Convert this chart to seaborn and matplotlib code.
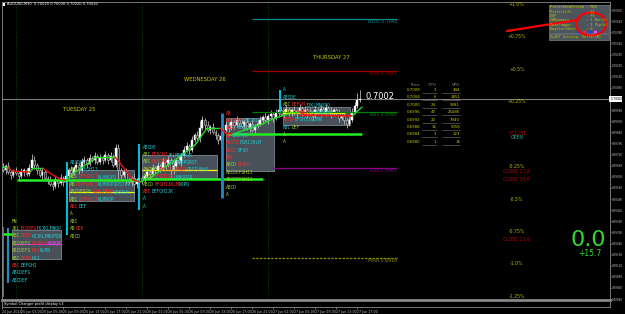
import numpy as np
import pandas as pd
import matplotlib
matplotlib.use("Agg")
import matplotlib.pyplot as plt
import matplotlib.transforms as mtransforms
from matplotlib.patches import Rectangle, Ellipse
from matplotlib.lines import Line2D
import seaborn as sns

# ---------------- data ----------------
symbol_title = "AUDUSD,M30  0.70020 0.70030 0.70020 0.70030"
first_bar = "2024-06-24 21:30"
first_open = 0.69653
closes = [
    0.69637, 0.69658, 0.69626, 0.69610, 0.69631, 0.69620, 0.69604, 0.69626, 0.69637, 0.69615,
    0.69647, 0.69691, 0.69664, 0.69637, 0.69610, 0.69626, 0.69593, 0.69583, 0.69561, 0.69550,
    0.69583, 0.69566, 0.69593, 0.69572, 0.69604, 0.69637, 0.69620, 0.69647, 0.69664, 0.69637,
    0.69680, 0.69691, 0.69669, 0.69701, 0.69691, 0.69712, 0.69680, 0.69701, 0.69691, 0.69718,
    0.69691, 0.69712, 0.69664, 0.69755, 0.69637, 0.69610, 0.69626, 0.69583, 0.69572, 0.69593,
    0.69561, 0.69583, 0.69593, 0.69583, 0.69604, 0.69626, 0.69615, 0.69647, 0.69637, 0.69658,
    0.69647, 0.69680, 0.69664, 0.69691, 0.69637, 0.69658, 0.69691, 0.69680, 0.69718, 0.69745,
    0.69766, 0.69745, 0.69799, 0.69826, 0.69809, 0.69863, 0.69907, 0.69880, 0.69853, 0.69869,
    0.69842, 0.69826, 0.69799, 0.69820, 0.69853, 0.69880, 0.69863, 0.69896, 0.69880, 0.69907,
    0.69890, 0.69874, 0.69896, 0.69863, 0.69885, 0.69853, 0.69874, 0.69885, 0.69907, 0.69923,
    0.69907, 0.69928, 0.69939, 0.69917, 0.69944, 0.69961, 0.69939, 0.69950, 0.69966, 0.69950,
    0.69961, 0.69944, 0.69955, 0.69971, 0.69950, 0.69961, 0.69939, 0.69950, 0.69928, 0.69961,
    0.69944, 0.69966, 0.69950, 0.69971, 0.69955, 0.69939, 0.69961, 0.69944, 0.69917, 0.69928,
    0.69907, 0.69885, 0.69907, 0.69950, 0.69982, 0.70015, 0.70020]
upper_wick_pips = [
    2, 1, 2, 1, 1, 2, 1, 2, 1, 1, 2, 3, 2, 1, 1, 2, 1, 1, 2, 1,
    2, 1, 2, 1, 2, 1, 2, 1, 2, 1, 2, 2, 1, 2, 1, 2, 1, 2, 1, 2,
    1, 2, 1, 2, 2, 1, 1, 2, 1, 1, 2, 1, 2, 1, 1, 2, 1, 2, 1, 2,
    1, 2, 1, 2, 1, 2, 1, 2, 1, 2, 2, 1, 2, 1, 2, 4, 2, 1, 2, 1,
    2, 1, 1, 2, 1, 2, 1, 2, 1, 2, 1, 2, 1, 2, 1, 2, 1, 2, 2, 1,
    2, 1, 2, 1, 2, 1, 2, 1, 2, 1, 1, 2, 1, 2, 1, 2, 1, 2, 1, 2,
    1, 2, 1, 2, 1, 2, 1, 1, 2, 1, 2, 1, 2, 2, 2, 4, 5]
lower_wick_pips = [
    1, 2, 1, 2, 1, 1, 2, 1, 2, 1, 1, 1, 2, 2, 1, 2, 1, 2, 1, 2,
    1, 2, 1, 2, 1, 1, 2, 1, 1, 2, 1, 1, 2, 1, 1, 2, 1, 1, 2, 1,
    2, 1, 1, 1, 5, 2, 1, 2, 1, 2, 1, 2, 1, 2, 1, 1, 2, 1, 2, 1,
    2, 1, 2, 1, 4, 2, 1, 1, 2, 1, 1, 2, 1, 1, 1, 2, 1, 2, 1, 2,
    1, 2, 2, 1, 2, 1, 2, 1, 2, 1, 2, 1, 2, 1, 2, 1, 2, 1, 1, 2,
    1, 2, 1, 2, 1, 2, 1, 2, 1, 2, 2, 1, 2, 1, 2, 1, 2, 1, 2, 1,
    1, 2, 1, 2, 1, 2, 1, 1, 2, 1, 2, 2, 1, 1, 1, 1, 1]

ma_hours = [-2.67, -1.52, -0.76, 2.67, 3.24, 5.14, 6.10, 8.38, 9.52, 11.24, 14.67, 15.05,
            18.86, 19.81, 22.29, 23.62, 25.52, 30.29, 34.10, 36.38, 38.86, 40.0, 41.33,
            44.57, 46.86, 49.33, 52.19, 54.10, 55.05, 64.0, 65.9]
ma_prices = [0.69653, 0.69653, 0.69631, 0.69626, 0.69647, 0.69647, 0.69626, 0.69588, 0.69583,
             0.69626, 0.69691, 0.69707, 0.69707, 0.69674, 0.69583, 0.69572, 0.69593, 0.69691,
             0.69772, 0.69863, 0.69863, 0.69836, 0.69831, 0.69863, 0.69885, 0.69917, 0.69944,
             0.69950, 0.69934, 0.69928, 0.69977]

level_names = ["R100 0.7045", "R78 0.7017", "R61 0.6995", "R38 0.6965", "Pivot 0.6916"]
level_prices = [0.7045, 0.7017, 0.6995, 0.6965, 0.6916]

pct_labels = ["+1.0%", "+0.75%", "+0.5%", "+0.25%", "-0.25%", "-0.5%", "-0.75%", "-1.0%", "-1.25%"]
pct_prices = [0.70533, 0.70360, 0.70182, 0.70009, 0.69658, 0.69480, 0.69307, 0.69134, 0.68956]
close_labels = ["Y.CLOSE", "CLOSE 21.6", "CLOSE 34.6", "CLOSE 21.6"]
close_prices = [0.69836, 0.69631, 0.69588, 0.69259]
open_label, open_price = "OPEN", 0.69815

table_header = ["Price", "TPO", "VPO"]
table_prices = ["0.7008", "0.7004", "0.7000", "0.6996", "0.6992", "0.6988", "0.6984", "0.6980"]
table_tpo = [3, 6, 24, 47, 22, 16, 3, 1]
table_vpo = [444, 1851, 9381, 26486, 7940, 5058, 123, 16]

info_lines = ["ProfitDataPeriod : M30", "ProfitLift       : 01", "ZUP              : PG",
              "ZBNumbers        : 1 Bar(s)", "ZwinTagger       : 1 Pip(s)", "DayStartHour     : 0"]
info_footer = "Su2DF Setting: Def(0)[M]"

day_labels = ["TUESDAY 25", "WEDNESDAY 26", "THURSDAY 27"]
day_label_hours = [12, 36, 60]
day_label_prices = [0.69961, 0.70128, 0.70247]
day_separator_hours = [0, 24, 48]

time_tick_hours = [-2.6, 1, 5, 9, 13, 17, 21, 25, 29, 33, 37, 41, 45, 49, 53, 57, 61, 65]
time_tick_labels = ["24 Jun 2024", "25 Jun 01:00", "25 Jun 05:00", "25 Jun 09:00", "25 Jun 13:00",
                    "25 Jun 17:00", "25 Jun 21:00", "26 Jun 01:00", "26 Jun 05:00", "26 Jun 09:00",
                    "26 Jun 13:00", "26 Jun 17:00", "26 Jun 21:00", "27 Jun 01:00", "27 Jun 05:00",
                    "27 Jun 09:00", "27 Jun 13:00", "27 Jun 17:00"]

profit_value, profit_pips = "0.0", "+15.7"
current_price = 0.70020
current_price_text = "0.7002"

# ---------------- style ----------------
sns.set_theme(style="dark", rc={"axes.facecolor": "black", "figure.facecolor": "black",
                                "axes.edgecolor": "#8a8a8a", "axes.grid": False})
plt.rcParams["font.family"] = ["DejaVu Sans"]
MONO = "DejaVu Sans Mono"
YEL = "#c8c800"
COL = {"r": "#ff2a2a", "g": "#9acd32", "c": "#22c8d0", "m": "#ff44ff", "y": "#ffff00"}

W, H = 625, 314
fig = plt.figure(figsize=(W / 100, H / 100), dpi=100, facecolor="black")
def fx(px): return px / W
def fy(py): return 1 - py / H

ax = fig.add_axes([fx(2), fy(300), fx(610) - fx(2), fy(2) - fy(300)])
ax.set_facecolor("black")
X0, X1 = -2.67, 113.14
Y0, Y1 = 0.68935, 0.70544
ax.set_xlim(X0, X1)
ax.set_ylim(Y0, Y1)

# day separators and current price line
for h in day_separator_hours:
    ax.axvline(h, color="#0a5a0a", lw=0.6, ls=(0, (1, 2)), zorder=0)
ax.axhline(current_price, color="#7a7a7a", lw=0.8, zorder=1)

# ---------------- TPO profiles ----------------
profiles = [
    dict(vl=(-1.52, 0.69026, 0.69323, "#1a8fc0", 1.6), rh=-0.76, rp=0.69361,
         box=(-0.76, 8.57, 0.69156, 0.69313),
         rows=[[("MN", "g")], [("JKL", "g"), ("BCDEFG", "r"), ("HIJKLMNOP", "c")],
               [("ABC", "g"), ("DEFG", "r"), ("HIJKLMNOPQR", "c")],
               [("ABCDEFG", "g"), ("HIJKLM", "r"), ("NOPQR", "m")],
               [("ABCDEFG", "g"), ("HIJ", "r"), ("KLMN", "c")],
               [("ABC", "g"), ("DEFG", "r"), ("HIJ", "c")], [("ABC", "r"), ("DEFGHI", "c")],
               [("ABCDEFG", "c")], [("ABCDEF", "c")]],
         lines=[(0.69291, -2.67, -0.76, "#22ee22", 1.8), (0.69237, -0.76, 8.57, "#cc33cc", 0.8)]),
    dict(vl=(9.71, 0.69286, 0.69680, "#00e5ff", 1.2), rh=10.29, rp=0.69680,
         box=(10.10, 22.48, 0.69469, 0.69637),
         rows=[[("ABCDEF", "c")], [("ABC", "g"), ("DEFGHIJ", "c")],
               [("ABC", "g"), ("DEFGHIJ", "r"), ("KLMNOPQ", "c")],
               [("AB", "g"), ("CDEFGHIJ", "r"), ("KLMNOPQRSTUV", "c")],
               [("ABCDEFGH", "g"), ("IJKLMNOP", "r"), ("QRSTUV", "c")],
               [("ABC", "g"), ("DEFGHIJ", "r"), ("KLMNOP", "c")], [("ABC", "r"), ("DEF", "c")],
               [("A", "g")], [("ABC", "g")], [("AB", "g"), ("CDE", "r")], [("ABCD", "g")]],
         lines=[(0.69518, 10.10, 22.48, "#ffff00", 0.9), (0.69583, 0.19, 23.05, "#22ee22", 1.8)]),
    dict(vl=(23.43, 0.69421, 0.69777, "#00e5ff", 1.2), rh=24.19, rp=0.69761,
         box=(24.0, 38.29, 0.69593, 0.69718),
         rows=[[("ABCDE", "c")], [("ABC", "g"), ("DEFGHI", "r"), ("JKLMNOPQR", "c")],
               [("ABC", "g"), ("DEFGHI", "r"), ("JKLMNOPQRST", "c")],
               [("ABCDEF", "g"), ("GHIJKLMNOP", "r"), ("QRSTUVWX", "c")],
               [("ABCD", "g"), ("EFGHIJK", "r"), ("LMNOPQR", "c")],
               [("ABCD", "g"), ("EFGHIJKLM", "r"), ("NOPQ", "c")], [("ABC", "r"), ("DEFGHIJK", "c")],
               [("A", "c")], [("A", "c")]],
         lines=[(0.69637, 24.0, 38.29, "#ffff00", 0.9), (0.69588, 24.0, 47.1, "#22ee22", 1.8)]),
    dict(vl=(39.24, 0.69485, 0.69944, "#1e8cc8", 2.0), rh=40.0, rp=0.69944,
         box=(40.0, 49.14, 0.69631, 0.69917),
         rows=[[("AB", "r")], [("ABCDEF", "r"), ("GHIJKL", "c")], [("ABCD", "r"), ("EFGHIJ", "c")],
               [("AB", "r"), ("CDEFGH", "c")], [("ABCDE", "r"), ("FGHIJKLM", "c")],
               [("ABCD", "r"), ("EFGH", "c")], [("ABC", "r")], [("ABCD", "g"), ("EFGHI", "r")],
               [("ABCDEFGHIJ", "g")], [("ABCDEFGHIJ", "g")], [("ABCD", "g")], [("A", "g")]],
         lines=[(0.69831, 40.19, 65.9, "#22ee22", 1.8)]),
    dict(vl=(50.29, 0.69950, 0.70069, "#00e5ff", 1.2), rh=50.86, rp=0.70069,
         box=(50.86, 63.62, 0.69880, 0.69977),
         rows=[[("A", "c")], [("ABCDE", "c")], [("ABC", "g"), ("DEFGH", "r"), ("IJKLMNOPQ", "c")],
               [("ABCD", "y"), ("EFGHIJ", "r"), ("KLMNOPQR", "c")], [("ABCD", "r"), ("EFGHIJKLMN", "c")],
               [("ABC", "c"), ("DEF", "g")], [("A", "g")], [("A", "g")]],
         lines=[(0.69944, 50.86, 62.67, "#ffff00", 0.9), (0.69934, 54.1, 64.2, "#ff2020", 1.0)]),
]
ROW_FS = 3.3
CW = 0.602 * ROW_FS
for pr in profiles:
    b = pr["box"]
    ax.add_patch(Rectangle((b[0], b[2]), b[1] - b[0], b[3] - b[2], facecolor="#56606a",
                           edgecolor="#8c96a0", lw=0.6, alpha=0.85, zorder=1))
    vx, vlo, vhi, vc, vw = pr["vl"]
    ax.vlines(vx, vlo, vhi, color=vc, lw=vw, zorder=4)
    for (yv, xa, xb, lc, lw) in pr["lines"]:
        ax.hlines(yv, xa, xb, color=lc, lw=lw, zorder=4)
    for k, segs in enumerate(pr["rows"]):
        off = 0.0
        for s, cc in segs:
            ax.annotate(s, xy=(pr["rh"], pr["rp"] - 0.0004 * k), xytext=(off, 0),
                        textcoords="offset points", fontsize=ROW_FS, family=MONO,
                        color=COL[cc], va="center", ha="left", zorder=6)
            off += CW * len(s)
ax.vlines(-2.48, 0.68951, 0.69329, color="#7a8088", lw=1.2, zorder=4)

# ---------------- candles ----------------
t_index = pd.date_range(first_bar, periods=len(closes), freq="30min")
hours = ((t_index - pd.Timestamp("2024-06-25 00:00")) / pd.Timedelta(hours=1)).to_numpy()
c = np.array(closes)
o = np.r_[first_open, c[:-1]]
hi = np.maximum(o, c) + np.array(upper_wick_pips) * 0.0001
lo = np.minimum(o, c) - np.array(lower_wick_pips) * 0.0001
up = c >= o
ax.vlines(hours, lo, hi, color="#b8b8b8", lw=0.6, zorder=2)
body = np.maximum(np.abs(c - o), 0.00002)
ax.bar(hours[up], body[up], bottom=o[up], width=0.34, color="white", edgecolor="white",
       lw=0.3, zorder=3)
ax.bar(hours[~up], body[~up], bottom=c[~up], width=0.34, color="#2a2a2a", edgecolor="#c8c8c8",
       lw=0.4, zorder=3)

# ---------------- moving average (colour by slope) ----------------
ma_df = pd.DataFrame({"h": ma_hours, "p": ma_prices})
for k in range(len(ma_df) - 1):
    seg = ma_df.iloc[k:k + 2]
    col = "#22dd22" if seg["p"].iloc[1] >= seg["p"].iloc[0] else "#ee1111"
    sns.lineplot(data=seg, x="h", y="p", color=col, lw=1.0, ax=ax, legend=False, zorder=5)
ax.set_xlabel("")
ax.set_ylabel("")

# ---------------- levels ----------------
lev_style = [("#008b8b", "-", 45.0), ("#a00000", "-", 45.0), ("#008000", "-", 45.0),
             ("#8b008b", "-", 49.0), ("#8b8b00", (0, (2, 1)), 45.0)]
for name, p, (lc, ls, x0) in zip(level_names, level_prices, lev_style):
    ax.hlines(p, x0, 72.6, color=lc, lw=0.9, ls=ls, zorder=4)
    ax.text(72.6, p, name, color=lc, fontsize=3.3, ha="right", va="top", zorder=6)

for s, p in zip(pct_labels, pct_prices):
    ax.text(95.4, p, s, color="#b8b800", fontsize=3.3, ha="center", va="center", zorder=6)
for s, p in zip(close_labels, close_prices):
    ax.text(95.4, p, s, color="#c00000", fontsize=3.3, ha="center", va="center", zorder=6)
ax.text(95.4, open_price, open_label, color="#20b2aa", fontsize=3.3, ha="center", va="center")

for s, h, p in zip(day_labels, day_label_hours, day_label_prices):
    ax.text(h, p, s, color=YEL, fontsize=3.8, ha="center", va="center", zorder=6)

ax.text(66.5, 0.70036, current_price_text, color="white", fontsize=6, ha="left", va="center", zorder=6)

# ---------------- table ----------------
ax.text(76.95, 0.70096, table_header[0], color="#8a8a8a", fontsize=2.8, ha="right", va="center")
ax.text(80.0, 0.70096, table_header[1], color="#8a8a8a", fontsize=2.8, ha="right", va="center")
ax.text(84.57, 0.70096, table_header[2], color="#8a8a8a", fontsize=2.8, ha="right", va="center")
for k, (pp, tp, vp) in enumerate(zip(table_prices, table_tpo, table_vpo)):
    yy = 0.70069 - 0.0004 * k
    ax.text(76.95, yy, pp, color=YEL, fontsize=2.8, ha="right", va="center", zorder=6)
    ax.text(80.0, yy, str(tp), color=YEL, fontsize=2.8, ha="right", va="center", zorder=6)
    ax.text(84.57, yy, str(vp), color=YEL, fontsize=2.8, ha="right", va="center", zorder=6)
    ax.hlines(yy - 0.00016, 77.33, 80.2, color="#606060", lw=0.5)
    ax.hlines(yy - 0.00016, 81.14, 84.57, color="#606060", lw=0.5)

# ---------------- axes ----------------
yt = 0.70500 - 0.0006 * np.arange(27)
ax.set_yticks(yt)
ax.set_yticklabels(["" if abs(v - current_price) < 1e-7 else f"{v:.5f}" for v in yt])
ax.yaxis.tick_right()
ax.tick_params(axis="y", right=True, left=False, labelsize=2.0, labelcolor="#bfbfbf",
               color="#bfbfbf", length=1.0, width=0.4, pad=0.6)
ax.set_xticks([])
for sp in ax.spines.values():
    sp.set_color("#8a8a8a")
    sp.set_linewidth(0.6)
ax.spines["bottom"].set_linewidth(2.0)
ax.text(1.0, current_price, " 0.70020", transform=mtransforms.blended_transform_factory(ax.transAxes, ax.transData),
        ha="left", va="center", fontsize=2.0, color="black",
        bbox=dict(facecolor="white", edgecolor="none", pad=0.5), zorder=10, clip_on=False)

ax2 = fig.add_axes([fx(2), fy(307), fx(610) - fx(2), fy(301) - fy(307)])
ax2.set_facecolor("black")
ax2.set_xlim(X0, X1)
ax2.set_yticks([])
for sp in ax2.spines.values():
    sp.set_color("#8a8a8a")
    sp.set_linewidth(0.6)
ax2.text(0.003, 0.5, "Symbol Changer profit display v3", transform=ax2.transAxes,
         fontsize=2.5, color="white", va="center")
ax2.set_xticks(time_tick_hours)
ax2.set_xticklabels(time_tick_labels, ha="left")
ax2.tick_params(axis="x", bottom=True, labelsize=2.3, labelcolor="#bfbfbf", color="#bfbfbf",
                length=1.5, width=0.4, pad=0.5)

# ---------------- HUD overlays (figure pixels) ----------------
fig.patches.append(Rectangle((fx(2.5), fy(5.5)), fx(3), fy(2.5) - fy(5.5), transform=fig.transFigure,
                             facecolor="white", edgecolor="none"))
fig.text(fx(7), fy(4), symbol_title, fontsize=2.6, color="white", va="center", ha="left")

fig.patches.append(Rectangle((fx(549), fy(33)), fx(60), fy(5) - fy(33), transform=fig.transFigure,
                             facecolor="#4c545c", edgecolor="#7a838c", lw=0.5))
fig.patches.append(Rectangle((fx(549), fy(40)), fx(60), fy(34) - fy(40), transform=fig.transFigure,
                             facecolor="#4c545c", edgecolor="#7a838c", lw=0.5))
for k, s in enumerate(info_lines):
    fig.text(fx(550), fy(7.5 + 4.3 * k), s, fontsize=2.5, family=MONO, color=YEL, va="center")
fig.text(fx(550), fy(37), info_footer, fontsize=2.5, family=MONO, color=YEL, va="center")
for xd, dc in zip([579, 584.5, 590, 595.5, 601], ["#2040ff", "#ff2040", "#2040ff", "#ff40ff", "#2040ff"]):
    fig.patches.append(Ellipse((fx(xd), fy(32)), fx(3.2), 3.2 / H, transform=fig.transFigure,
                               facecolor=dc, edgecolor="none"))
fig.add_artist(Line2D([fx(507), fx(545), fx(578)], [fy(31), fy(25), fy(20)],
                      transform=fig.transFigure, color="#ff0000", lw=1.6))
fig.patches.append(Ellipse((fx(591), fy(24)), fx(30), 23 / H, transform=fig.transFigure,
                           facecolor="none", edgecolor="#ff0000", lw=1.5))

fig.text(fx(588), fy(240), profit_value, fontsize=16, color="#33d633", ha="center", va="center")
fig.text(fx(590), fy(253), profit_pips, fontsize=5.5, color="#33d633", ha="center", va="center")

fig.savefig("out.png", dpi=100, facecolor="black")
